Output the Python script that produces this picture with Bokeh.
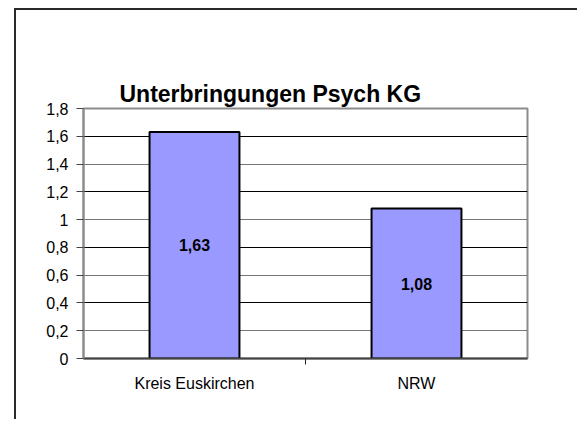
from bokeh.plotting import figure
from bokeh.models import (ColumnDataSource, FixedTicker, Grid, Title, LabelSet,
                          CategoricalAxis, FactorRange)
from bokeh.core.properties import value
from bokeh.embed import file_html
from bokeh.resources import INLINE

# data
categories = ["Kreis Euskirchen", "NRW"]
values = [1.63, 1.08]
value_labels = ["1,63", "1,08"]
y_ticks = [0, 0.2, 0.4, 0.6, 0.8, 1.0, 1.2, 1.4, 1.6, 1.8]
y_tick_labels = ["0", "0,2", "0,4", "0,6", "0,8", "1", "1,2", "1,4", "1,6", "1,8"]
title_text = "Unterbringungen Psych KG"

FONT = "Liberation Sans"

src = ColumnDataSource(dict(
    cat=categories,
    val=values,
    half=[v / 2 for v in values],
    lab=value_labels,
))

p = figure(
    x_range=categories,
    y_range=(0, 1.8),
    width=563, height=411,
    output_backend="svg",
    toolbar_location=None,
    min_border_left=67, min_border_right=52,
    min_border_top=98, min_border_bottom=63,
)
p.margin = (8, 0, 0, 14)
p.styles = {"border-top": "2px solid #2a2a2a", "border-left": "2px solid #2a2a2a"}
p.x_range.range_padding = 0

# category axis (labels only) - grab it before any other axis is added
cat_axis = p.below[0]
cat_axis.major_label_text_font = FONT
cat_axis.major_label_text_font_size = "16px"
cat_axis.major_label_text_color = "black"
cat_axis.axis_line_color = None
cat_axis.major_tick_line_color = None
cat_axis.major_tick_out = 0
cat_axis.major_tick_in = 0
cat_axis.major_label_standoff = 10

# invisible spacer between plot area and title
spacer = CategoricalAxis(axis_line_color=None, major_tick_line_color=None,
                         major_tick_out=0, major_tick_in=0,
                         major_label_text_color=None,
                         major_label_text_font_size="1px",
                         major_label_standoff=53)
p.add_layout(spacer, "above")

t = Title(text=title_text, align="left", offset=36, text_font=FONT,
          text_font_size="23px", text_font_style="bold", text_color="black",
          standoff=4)
p.add_layout(t, "above")

p.vbar(x="cat", top="val", width=0.405, source=src, fill_color="#9999FF",
       line_color="black", line_width=2)

labels = LabelSet(x="cat", y="half", text="lab", source=src,
                  text_align="center", text_baseline="middle",
                  text_font=value(FONT), text_font_size=value("16px"),
                  text_font_style="bold", text_color="black")
p.add_layout(labels)

# plot area outline
p.outline_line_color = "#8c8c8c"
p.outline_line_width = 2

# y axis
p.yaxis.ticker = FixedTicker(ticks=y_ticks)
p.yaxis.major_label_overrides = {t_: l for t_, l in zip(y_ticks, y_tick_labels)}
p.yaxis.major_label_text_font = FONT
p.yaxis.major_label_text_font_size = "16px"
p.yaxis.major_label_text_color = "black"
p.yaxis.axis_line_color = "#8c8c8c"
p.yaxis.axis_line_width = 2
p.yaxis.major_tick_line_color = "#444"
p.yaxis.major_tick_in = 0
p.yaxis.major_tick_out = 7
p.yaxis.minor_tick_line_color = None
p.yaxis.major_label_standoff = 8

# boundary tick axis (line + ticks between categories, no labels)
boundaries = ["b%d" % i for i in range(len(categories) + 1)]
p.extra_x_ranges = {"bnd": FactorRange(factors=boundaries, range_padding=-1,
                                       range_padding_units="absolute")}
bnd_axis = CategoricalAxis(x_range_name="bnd",
                           major_label_text_font_size="1px",
                           major_label_text_color=None, major_label_standoff=0,
                           axis_line_color="#444", axis_line_width=2,
                           major_tick_line_color="#222", major_tick_in=0,
                           major_tick_out=6, minor_tick_line_color=None)
p.below = [bnd_axis] + list(p.below)

# grid lines
p.xgrid.grid_line_color = None
p.ygrid.ticker = FixedTicker(ticks=y_ticks[2::2])
p.ygrid.grid_line_color = "black"
p.ygrid.grid_line_width = 1
g2 = Grid(dimension=1, ticker=FixedTicker(ticks=y_ticks[1::2]),
          grid_line_color="#777777", grid_line_width=1)
p.add_layout(g2)

p.background_fill_color = "white"
p.border_fill_color = "white"

open("out.html", "w").write(file_html(p, INLINE))
